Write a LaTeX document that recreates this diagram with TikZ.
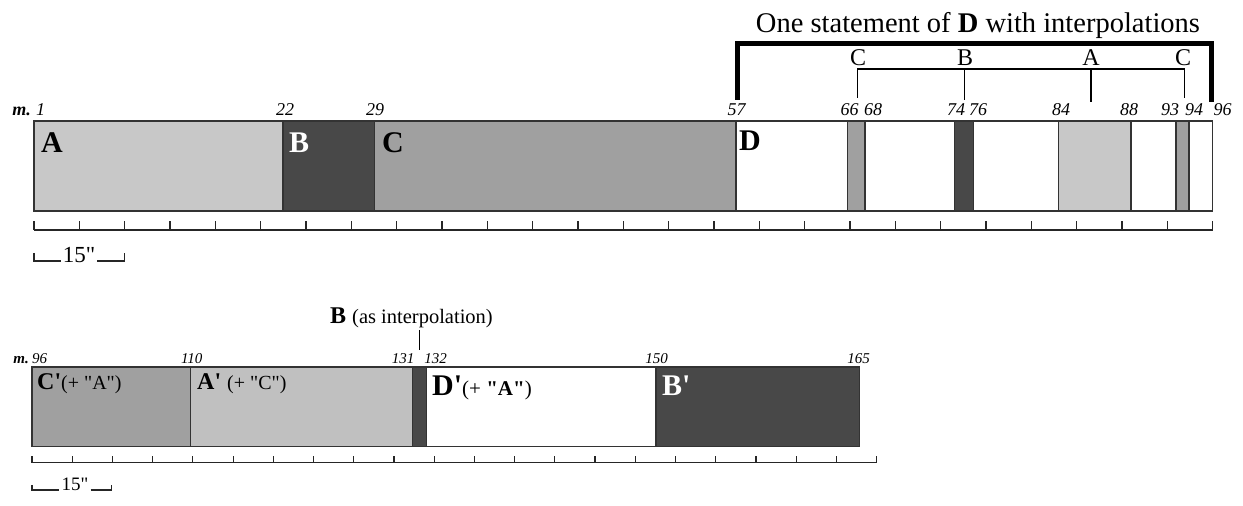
\documentclass[tikz,border=0pt]{standalone}
\usepackage{fontspec}
\setmainfont{Liberation Serif}
\usetikzlibrary{positioning}
\definecolor{segLight}{HTML}{C8C8C8}
\definecolor{segPale}{HTML}{C0C0C0}
\definecolor{segMid}{HTML}{A0A0A0}
\definecolor{segDark}{HTML}{484848}
\definecolor{edge}{HTML}{333333}

\begin{document}
\begin{tikzpicture}[
    x=1pt, y=1pt,
    seg/.style={draw=edge, line width=1.3pt},
    ruler/.style={draw=black!85, line width=1.4pt},
    barnum/.style={anchor=base, inner sep=0pt, font=\fontsize{18}{18}\selectfont\itshape},
    lownum/.style={anchor=base, inner sep=0pt, font=\fontsize{15}{15}\selectfont\itshape},
    seclab/.style={anchor=base west, inner sep=0pt, font=\fontsize{30}{30}\selectfont\bfseries},
    subsec/.style={anchor=base west, inner sep=0pt, font=\fontsize{24}{24}\selectfont\bfseries},
    intlab/.style={anchor=base, inner sep=0pt, font=\fontsize{24}{24}\selectfont},
    scalelab/.style={anchor=base, inner sep=2pt}
]
\useasboundingbox (0,0) rectangle (1243,506);

% first statement, mm. 1-96
\foreach \a/\b/\c in {34/283/segLight, 283/374.5/segDark, 374.5/736/segMid, 736/847.5/white,
    847.5/865/segMid, 865/954.5/white, 954.5/973.5/segDark, 973.5/1058.5/white,
    1058.5/1131/segLight, 1131/1176/white, 1176/1189/segMid, 1189/1212.6/white}
  \draw[seg, fill=\c] (\a,295) rectangle (\b,385);

\node[seclab] (secA) at (41,353) {A};
\node[seclab, text=white] (secB) at (289,353) {B};
\node[seclab] (secC) at (382,353) {C};
\node[seclab] (secD) at (739,355) {D};

% measure numbers
\node[barnum, anchor=base east, font=\fontsize{18}{18}\selectfont\bfseries\itshape] (mTop) at (31,390.5) {m.};
\node[barnum, anchor=base west] (n1) at (36,390.5) {1};
\foreach \m/\x in {22/285, 29/375, 57/736.5, 66/849.5, 68/873, 74/956, 76/978,
    84/1061, 88/1129, 93/1170, 94/1194, 96/1222.5}
  \node[barnum] (n\m) at (\x,390.5) {\m};

% ruler, one tick every 7.5"
\draw[ruler] (34,276) -- (1212.6,276);
\foreach \i in {0,...,26}
  \draw[ruler, line width=1.2pt] (34+\i*45.33,276) -- ++(0,9);

\node[scalelab, font=\fontsize{23}{23}\selectfont] (scaleTop) at (79,243.5) {15\textquotedbl};
\draw[ruler, line width=1.1pt] (34,253) |- (scaleTop.west |- 0,245);
\draw[ruler, line width=1.1pt] (scaleTop.east |- 0,245) -| (124.7,253);

% bracket over D
\node[anchor=base, inner sep=0pt, font=\fontsize{28.5}{28.5}\selectfont] (title) at (978,473)
  {One statement of \textbf{D} with interpolations};
\coordinate (dL) at (737,406);
\coordinate (dR) at (1211.7,404);
\draw[line width=5pt, line cap=butt] (dL) |- (978,462.7) -| (dR);

\node[intlab] (intC1) at (858,440.5) {C};
\node[intlab] (intB) at (965,440.5) {B};
\node[intlab] (intA) at (1091,440.5) {A};
\node[intlab] (intC2) at (1183,440.5) {C};
\draw[line width=1.2pt] (857.3,408) |- (1184.3,437) -- (1184.3,408);
\draw[line width=1.2pt] (964.3,437) -- (964.3,406);
\draw[line width=1.2pt] (1091,437) -- (1091,404.3);

% second statement, mm. 96-165
\foreach \a/\b/\c in {32/190.3/segMid, 190.3/412.7/segPale, 412.7/426.7/segDark,
    426.7/656/white, 656/859.3/segDark}
  \draw[seg, fill=\c] (\a,59.3) rectangle (\b,139);

\node[subsec] (secCp) at (37,116)
  {C\textquotesingle{\fontsize{20}{20}\selectfont\mdseries(+ \textquotedbl A\textquotedbl)}};
\node[subsec] (secAp) at (197,116)
  {A\textquotesingle\ {\fontsize{20}{20}\selectfont\mdseries(+ \textquotedbl C\textquotedbl)}};
\node[seclab] (secDp) at (432,110)
  {D\textquotesingle{\fontsize{21}{21}\selectfont\mdseries(+ \textbf{\textquotedbl A\textquotedbl})}};
\node[seclab, text=white] (secBp) at (662,110) {B\textquotesingle};

\node[lownum, anchor=base east, font=\fontsize{15}{15}\selectfont\bfseries\itshape] (mLow) at (29,142) {m.};
\foreach \m/\x in {96/39.5, 110/191.7, 131/403, 132/435.5, 150/656.5, 165/858.5}
  \node[lownum] (n\m) at (\x,142) {\m};

\node[anchor=base west, inner sep=0pt, font=\fontsize{24}{24}\selectfont] (interp) at (330,182)
  {\textbf{B} {\fontsize{20.5}{20.5}\selectfont(as interpolation)}};
\coordinate (interpTip) at (419.3,156);
\draw[line width=1pt] (interpTip |- 0,176) -- (interpTip);

\draw[ruler] (32,43.3) -- (876.7,43.3);
\foreach \i in {0,...,21}
  \draw[ruler, line width=1.2pt] (32+\i*40.22,43.3) -- ++(0,7);

\node[scalelab, font=\fontsize{19}{19}\selectfont] (scaleLow) at (75,15) {15\textquotedbl};
\draw[ruler, line width=1.1pt] (32,21) |- (scaleLow.west |- 0,16);
\draw[ruler, line width=1.1pt] (scaleLow.east |- 0,16) -| (111.7,21);

\end{tikzpicture}
\end{document}
